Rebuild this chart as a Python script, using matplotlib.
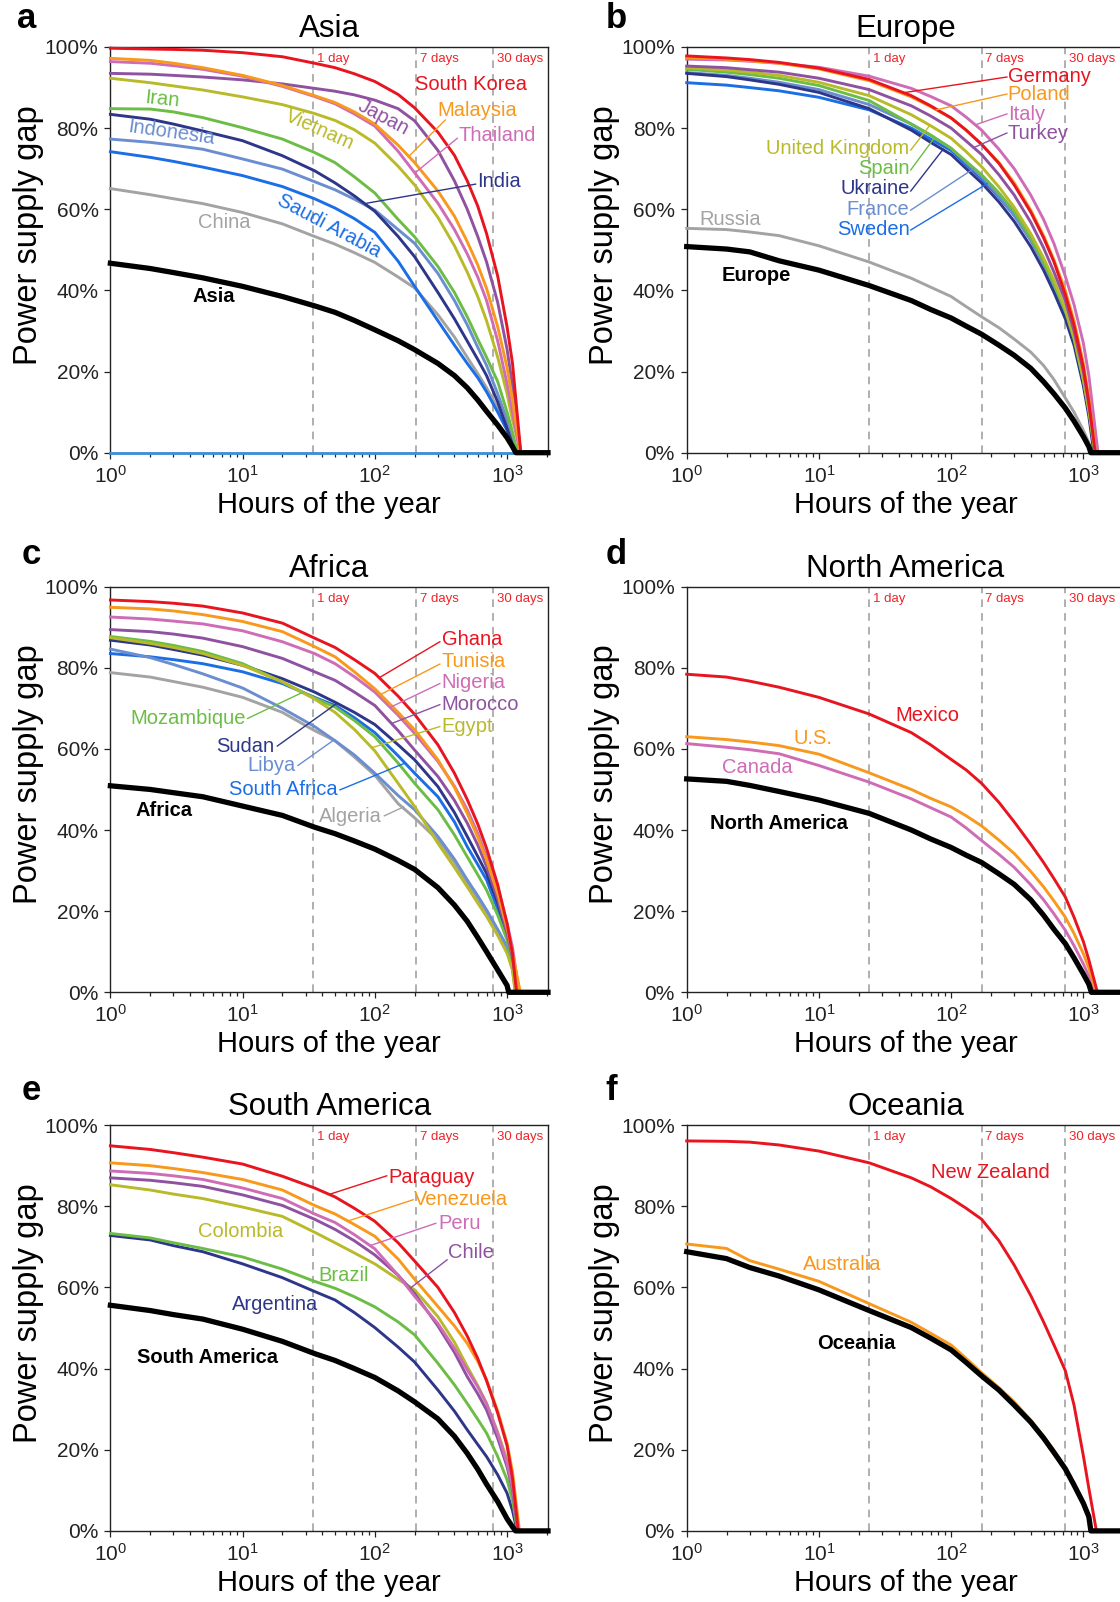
import matplotlib
matplotlib.use('Agg')
import matplotlib.pyplot as plt

plt.rcParams['font.family'] = ['Liberation Sans', 'DejaVu Sans']
plt.rcParams['mathtext.fontset'] = 'custom'
plt.rcParams['mathtext.rm'] = 'Liberation Sans'
plt.rcParams['mathtext.it'] = 'Liberation Sans:italic'
plt.rcParams['mathtext.bf'] = 'Liberation Sans:bold'

# ---------------- data (hours of the year vs power supply gap, %) ----------------
LEFT_HOURS = [1, 2, 3, 5, 10, 20, 35, 50, 70, 100, 150, 200, 300, 400, 500, 600, 700, 850, 1000, 1100]
RIGHT_HOURS = [1, 2, 3, 5, 10, 24, 50, 70, 100, 130, 170, 230, 300, 400, 500, 600, 730, 850, 1000, 1100]
LEFT_DAY_MARKS = [34.3, 205, 783]
RIGHT_DAY_MARKS = [24, 170, 730]
DAY_LABELS = ['1 day', '7 days', '30 days']
X_MAX = 2040
Y_TICKS = [0, 20, 40, 60, 80, 100]
Y_TICK_LABELS = ['0%', '20%', '40%', '60%', '80%', '100%']

# Asia (LEFT_HOURS)
asia_names = ['South Korea', 'Malaysia', 'Thailand', 'Japan', 'Vietnam', 'Iran',
              'India', 'Indonesia', 'Saudi Arabia', 'China', 'Asia']
asia_south_korea = [99.7, 99.5, 99.4, 99.2, 98.6, 97.6, 96.0, 94.9, 93.4, 91.5, 88.3, 85.0, 79.0, 73.3, 67.0, 60.8, 54.0, 43.5, 31.0, 22.0]
asia_malaysia = [97.2, 96.7, 96.0, 94.9, 93.0, 90.5, 88.0, 86.3, 84.0, 81.0, 75.8, 71.5, 64.5, 58.3, 52.0, 46.3, 40.5, 31.0, 21.0, 13.0]
asia_thailand = [96.4, 96.0, 95.4, 94.5, 92.8, 90.3, 87.8, 86.0, 83.5, 80.5, 74.3, 69.0, 61.5, 55.0, 49.0, 43.3, 37.5, 27.5, 17.0, 10.0]
asia_japan = [93.5, 93.3, 93.0, 92.6, 91.9, 90.9, 89.8, 89.1, 88.2, 86.9, 84.8, 81.8, 74.5, 67.0, 60.0, 53.3, 47.0, 37.0, 25.5, 16.5]
asia_vietnam = [92.3, 91.2, 90.4, 89.4, 87.7, 85.8, 83.6, 81.9, 79.6, 76.3, 70.6, 66.0, 58.0, 51.0, 44.5, 38.5, 32.5, 23.5, 14.5, 8.0]
asia_iran = [84.8, 84.7, 84.0, 82.6, 80.1, 77.3, 74.0, 71.5, 68.0, 64.0, 57.5, 53.2, 45.9, 39.5, 33.5, 28.0, 23.5, 17.5, 10.0, 5.0]
asia_india = [83.4, 82.2, 81.0, 79.3, 76.9, 73.2, 69.5, 66.5, 63.3, 59.5, 53.3, 48.3, 39.5, 33.0, 27.5, 23.0, 19.0, 12.5, 6.0, 2.0]
asia_indonesia = [77.3, 76.5, 75.8, 74.8, 72.4, 69.9, 66.8, 64.8, 62.5, 59.8, 55.0, 51.6, 44.2, 37.5, 31.5, 26.0, 21.5, 14.5, 8.0, 3.5]
asia_saudi_arabia = [74.2, 72.8, 71.8, 70.4, 68.3, 65.6, 62.6, 60.3, 57.7, 54.3, 47.2, 41.0, 32.5, 26.5, 22.0, 18.5, 15.0, 10.0, 5.5, 2.5]
asia_china = [65.1, 63.6, 62.6, 61.4, 59.2, 56.4, 53.3, 51.4, 49.3, 46.9, 43.3, 40.6, 34.0, 28.5, 23.5, 19.5, 16.0, 11.0, 6.5, 3.0]
asia_region = [46.7, 45.4, 44.4, 43.1, 41.0, 38.5, 36.2, 34.6, 32.6, 30.3, 27.6, 25.4, 22.0, 19.0, 16.0, 13.0, 10.2, 6.8, 3.7, 1.5]
asia_zero_hours = [1270, 1260, 1250, 1270, 1280, 1200, 1160, 1200, 1150, 1170, 1165]

# Europe (RIGHT_HOURS)
europe_names = ['Germany', 'Poland', 'Italy', 'Turkey', 'United Kingdom', 'Spain',
                'Ukraine', 'France', 'Sweden', 'Russia', 'Europe']
europe_germany = [97.8, 97.3, 96.9, 96.2, 94.8, 92.0, 88.0, 85.5, 82.5, 79.5, 76.0, 71.3, 66.0, 59.3, 53.0, 47.0, 39.0, 31.5, 21.0, 12.5]
europe_poland = [97.4, 97.0, 96.6, 96.0, 94.6, 91.7, 87.7, 85.3, 82.5, 79.5, 76.0, 71.5, 66.5, 59.8, 53.5, 47.5, 40.0, 32.5, 22.0, 13.5]
europe_italy = [97.0, 96.8, 96.5, 96.0, 95.0, 92.8, 89.8, 87.8, 85.5, 82.7, 79.5, 74.8, 70.0, 63.5, 57.5, 51.5, 43.5, 36.5, 27.0, 19.0]
europe_turkey = [95.3, 94.9, 94.4, 93.8, 92.3, 89.5, 85.5, 83.0, 80.0, 76.8, 73.5, 68.5, 63.5, 56.8, 50.5, 44.5, 37.5, 30.0, 20.0, 12.0]
europe_uk = [94.9, 94.3, 93.8, 93.0, 91.3, 88.0, 83.3, 80.6, 77.5, 74.2, 70.5, 65.5, 60.5, 54.0, 48.0, 42.5, 35.5, 28.5, 18.0, 10.5]
europe_spain = [94.5, 93.8, 93.2, 92.3, 90.5, 86.8, 81.0, 78.3, 75.0, 71.8, 68.5, 64.0, 59.5, 53.0, 47.0, 41.5, 35.0, 28.0, 18.0, 10.5]
europe_ukraine = [93.5, 92.7, 91.9, 90.8, 88.8, 84.8, 79.5, 76.5, 73.5, 70.0, 66.5, 61.8, 57.0, 50.8, 45.0, 39.5, 33.0, 26.5, 16.5, 9.0]
europe_france = [93.7, 93.0, 92.3, 91.3, 89.5, 85.8, 81.0, 78.2, 75.0, 71.5, 68.0, 63.3, 58.5, 52.3, 46.5, 41.0, 34.5, 27.5, 17.5, 10.0]
europe_sweden = [91.2, 90.6, 90.0, 89.2, 87.6, 84.5, 80.0, 77.3, 74.5, 71.0, 67.5, 63.0, 58.5, 52.5, 47.0, 41.5, 35.0, 28.0, 18.5, 11.0]
europe_russia = [55.3, 55.0, 54.4, 53.5, 51.0, 47.0, 43.0, 40.8, 38.5, 36.0, 33.5, 30.8, 28.0, 24.8, 21.5, 18.0, 13.5, 10.0, 5.5, 2.5]
europe_region = [50.8, 50.2, 49.5, 47.3, 45.0, 41.2, 37.5, 35.3, 33.2, 31.2, 29.2, 26.5, 24.0, 20.8, 17.5, 14.5, 11.0, 7.8, 4.0, 1.5]
europe_zero_hours = [1230, 1240, 1290, 1250, 1230, 1220, 1200, 1220, 1230, 1160, 1140]

# Africa (LEFT_HOURS)
africa_names = ['Ghana', 'Tunisia', 'Nigeria', 'Morocco', 'Egypt', 'Mozambique',
                'Sudan', 'Libya', 'South Africa', 'Algeria', 'Africa']
africa_ghana = [96.7, 96.3, 95.9, 95.2, 93.5, 91.0, 87.3, 85.0, 82.0, 78.6, 73.0, 68.5, 61.0, 54.0, 47.5, 41.5, 35.5, 26.5, 17.0, 9.5]
africa_tunisia = [94.9, 94.5, 94.0, 93.1, 91.4, 88.9, 85.2, 82.7, 79.0, 74.8, 69.0, 64.7, 57.3, 50.5, 44.1, 38.3, 32.6, 24.3, 15.8, 9.5]
africa_nigeria = [92.5, 92.0, 91.5, 90.8, 89.1, 86.4, 83.5, 81.0, 77.8, 74.0, 68.3, 63.8, 56.9, 50.8, 45.0, 39.2, 33.4, 25.0, 17.0, 11.0]
africa_morocco = [89.4, 88.9, 88.3, 87.3, 85.2, 82.3, 79.0, 76.9, 74.0, 70.7, 64.5, 59.7, 53.2, 47.3, 41.7, 36.3, 31.0, 23.0, 14.5, 8.5]
africa_egypt = [87.4, 86.0, 85.0, 83.5, 80.6, 76.5, 72.3, 69.0, 64.8, 59.5, 51.5, 45.8, 36.7, 30.8, 26.0, 22.0, 18.7, 14.0, 9.6, 5.5]
africa_mozambique = [87.7, 86.5, 85.5, 84.0, 81.0, 76.5, 72.5, 70.3, 67.0, 63.0, 56.5, 51.5, 45.0, 38.8, 33.4, 29.0, 25.2, 19.0, 12.9, 7.5]
africa_sudan = [86.8, 85.6, 84.5, 83.1, 80.6, 77.3, 74.0, 71.5, 69.0, 66.0, 61.0, 57.3, 50.7, 44.3, 38.4, 33.5, 29.3, 22.0, 14.5, 8.5]
africa_libya = [84.6, 82.5, 80.8, 78.5, 75.0, 70.0, 65.5, 62.0, 58.5, 54.0, 48.5, 45.0, 38.4, 32.8, 27.7, 23.8, 20.3, 15.5, 11.3, 6.0]
africa_south_africa = [83.5, 82.7, 82.0, 81.0, 79.0, 76.1, 72.7, 70.7, 67.7, 64.0, 58.3, 54.0, 48.2, 42.0, 35.9, 31.5, 27.7, 20.5, 13.7, 8.0]
africa_algeria = [78.8, 77.7, 76.6, 75.2, 72.7, 69.0, 64.5, 62.0, 58.0, 53.5, 46.5, 43.0, 37.5, 32.0, 26.9, 23.0, 19.5, 15.0, 10.4, 5.5]
africa_region = [50.9, 50.0, 49.2, 48.2, 45.9, 43.6, 40.7, 39.1, 37.3, 35.3, 32.5, 30.3, 25.8, 21.5, 17.5, 13.5, 10.0, 5.5, 1.7]
africa_zero_hours = [1180, 1260, 1230, 1200, 1150, 1170, 1200, 1170, 1180, 1160, 1030]

# North America (RIGHT_HOURS)
namerica_names = ['Mexico', 'U.S.', 'Canada', 'North America']
namerica_mexico = [78.4, 77.7, 76.7, 75.2, 72.7, 68.6, 64.0, 61.0, 57.4, 54.8, 51.5, 46.8, 42.0, 36.5, 32.0, 28.0, 23.5, 18.5, 12.5, 8.0]
namerica_us = [63.0, 62.3, 61.7, 60.8, 58.7, 54.1, 50.0, 47.8, 45.7, 43.5, 41.0, 37.5, 34.2, 29.8, 26.0, 22.5, 18.5, 14.5, 9.5, 6.0]
namerica_canada = [61.3, 60.4, 59.8, 58.8, 55.9, 51.8, 47.7, 45.5, 43.2, 40.5, 37.4, 34.0, 30.8, 26.5, 22.8, 19.3, 15.3, 11.5, 7.0, 4.0]
namerica_region = [52.6, 52.0, 51.0, 49.5, 47.4, 44.1, 40.0, 37.8, 35.7, 33.8, 32.0, 29.2, 26.6, 22.8, 19.0, 15.5, 12.0, 8.5, 4.5, 2.0]
namerica_zero_hours = [1277, 1250, 1220, 1150]

# South America (LEFT_HOURS)
samerica_names = ['Paraguay', 'Venezuela', 'Peru', 'Chile', 'Colombia', 'Brazil',
                  'Argentina', 'South America']
samerica_paraguay = [94.9, 94.0, 93.2, 92.1, 90.4, 87.4, 84.5, 82.3, 79.5, 76.3, 71.0, 66.5, 60.0, 53.8, 48.0, 42.5, 37.0, 29.0, 21.0, 13.0]
samerica_venezuela = [90.7, 90.0, 89.3, 88.3, 86.6, 84.0, 80.2, 78.1, 75.5, 72.6, 67.0, 62.0, 55.3, 50.5, 46.2, 41.8, 37.2, 29.5, 21.6, 14.5]
samerica_peru = [88.7, 88.1, 87.5, 86.6, 84.5, 81.9, 78.1, 76.0, 73.0, 69.5, 63.0, 57.8, 51.1, 45.0, 39.7, 35.5, 31.4, 24.0, 16.7, 11.0]
samerica_chile = [87.0, 86.4, 85.8, 84.9, 82.8, 80.2, 76.8, 74.3, 71.5, 68.0, 63.0, 58.5, 50.5, 44.0, 38.0, 33.8, 29.8, 22.8, 15.8, 10.0]
samerica_colombia = [85.3, 84.0, 83.0, 81.9, 79.8, 77.5, 73.6, 71.0, 68.5, 65.8, 62.0, 59.4, 52.8, 46.5, 40.5, 35.8, 31.4, 24.3, 17.5, 11.5]
samerica_brazil = [73.3, 72.2, 71.0, 69.6, 67.5, 64.5, 61.5, 59.8, 57.7, 55.2, 51.5, 48.3, 41.3, 36.0, 31.4, 27.5, 24.1, 18.3, 12.6, 7.5]
samerica_argentina = [72.8, 71.7, 70.3, 68.8, 65.8, 62.4, 59.0, 56.9, 53.8, 50.1, 45.3, 41.6, 34.7, 29.5, 24.9, 21.3, 18.3, 13.8, 9.3, 5.0]
samerica_region = [55.6, 54.3, 53.3, 52.2, 49.7, 46.7, 43.7, 42.0, 40.0, 37.8, 34.5, 31.8, 27.6, 23.3, 19.1, 15.2, 11.5, 7.2, 3.0, 1.0]
samerica_zero_hours = [1215, 1240, 1220, 1210, 1230, 1200, 1190, 1160]

# Oceania (RIGHT_HOURS)
oceania_names = ['New Zealand', 'Australia', 'Oceania']
oceania_new_zealand = [96.1, 96.0, 95.8, 95.1, 93.6, 90.7, 87.0, 84.8, 81.9, 79.5, 76.8, 71.5, 65.5, 58.0, 51.5, 45.8, 39.5, 31.0, 18.5, 10.5]
oceania_australia = [70.7, 69.6, 66.6, 64.5, 61.5, 56.0, 51.4, 48.7, 45.8, 42.5, 39.0, 35.3, 31.8, 27.3, 23.3, 19.8, 15.7, 11.8, 7.2, 4.0]
oceania_region = [68.8, 67.1, 64.9, 62.8, 59.4, 54.3, 50.1, 47.5, 44.6, 41.5, 38.2, 34.7, 31.0, 26.8, 22.9, 19.3, 15.3, 11.3, 6.8, 3.5]
oceania_zero_hours = [1255, 1150, 1140]

# ---------------- styling ----------------
RED = '#e8141f'
ORANGE = '#f8981d'
PINK = '#cf6cb6'
PURPLE = '#8f52a1'
OLIVE = '#b9ba2a'
GREEN = '#6cbd45'
NAVY = '#2e3689'
STEEL = '#6b8ed0'
BLUE = '#1b6ee6'
GRAY = '#a3a3a3'
BLACK = '#000000'

TEN = [RED, ORANGE, PINK, PURPLE, OLIVE, GREEN, NAVY, STEEL, BLUE, GRAY, BLACK]

panels = [
    dict(title='Asia', letter='a', hours=LEFT_HOURS, days=LEFT_DAY_MARKS,
         series=[asia_south_korea, asia_malaysia, asia_thailand, asia_japan, asia_vietnam,
                 asia_iran, asia_india, asia_indonesia, asia_saudi_arabia, asia_china, asia_region],
         zeros=asia_zero_hours, colors=TEN, rect=(110.4, 47, 548, 452.7), letter_xy=(27, 18)),
    dict(title='Europe', letter='b', hours=RIGHT_HOURS, days=RIGHT_DAY_MARKS,
         series=[europe_germany, europe_poland, europe_italy, europe_turkey, europe_uk,
                 europe_spain, europe_ukraine, europe_france, europe_sweden, europe_russia,
                 europe_region],
         zeros=europe_zero_hours, colors=TEN, rect=(686.7, 47, 1124.3, 452.7), letter_xy=(616, 18)),
    dict(title='Africa', letter='c', hours=LEFT_HOURS, days=LEFT_DAY_MARKS,
         series=[africa_ghana, africa_tunisia, africa_nigeria, africa_morocco, africa_egypt,
                 africa_mozambique, africa_sudan, africa_libya, africa_south_africa,
                 africa_algeria, africa_region],
         zeros=africa_zero_hours, colors=TEN, rect=(110.4, 586.6, 548, 992.3), letter_xy=(31, 554)),
    dict(title='North America', letter='d', hours=RIGHT_HOURS, days=RIGHT_DAY_MARKS,
         series=[namerica_mexico, namerica_us, namerica_canada, namerica_region],
         zeros=namerica_zero_hours, colors=[RED, ORANGE, PINK, BLACK],
         rect=(686.7, 586.6, 1124.3, 992.3), letter_xy=(616, 554)),
    dict(title='South America', letter='e', hours=LEFT_HOURS, days=LEFT_DAY_MARKS,
         series=[samerica_paraguay, samerica_venezuela, samerica_peru, samerica_chile,
                 samerica_colombia, samerica_brazil, samerica_argentina, samerica_region],
         zeros=samerica_zero_hours, colors=[RED, ORANGE, PINK, PURPLE, OLIVE, GREEN, NAVY, BLACK],
         rect=(110.4, 1125.1, 548, 1530.9), letter_xy=(31, 1091)),
    dict(title='Oceania', letter='f', hours=RIGHT_HOURS, days=RIGHT_DAY_MARKS,
         series=[oceania_new_zealand, oceania_australia, oceania_region],
         zeros=oceania_zero_hours, colors=[RED, ORANGE, BLACK],
         rect=(686.7, 1125.1, 1124.3, 1530.9), letter_xy=(611, 1091)),
]

# label annotations: (text, x, y, color, ha, rotation, bold, leader)
labels = {
    'Asia': [
        ('South Korea', 535, 90.7, RED, 'center', 0, False, None),
        ('Malaysia', 595, 84.4, ORANGE, 'center', 0, False, ((341, 82.0), (180, 73.0))),
        ('Thailand', 845, 78.1, PINK, 'center', 0, False, ((420, 77.5), (202, 69.0))),
        ('Japan', 116, 82.6, PURPLE, 'center', -28, False, None),
        ('Vietnam', 38, 79.6, OLIVE, 'center', -24, False, None),
        ('Iran', 2.45, 87.0, GREEN, 'center', -6, False, None),
        ('Indonesia', 2.9, 79.0, STEEL, 'center', -8, False, None),
        ('India', 867, 66.8, NAVY, 'center', 0, False, ((578, 66.2), (87, 61.5))),
        ('Saudi Arabia', 45, 56.0, BLUE, 'center', -28, False, None),
        ('China', 7.2, 56.7, GRAY, 'center', 0, False, None),
        ('Asia', 6.1, 38.5, BLACK, 'center', 0, True, None),
    ],
    'Europe': [
        ('Germany', 268, 92.7, RED, 'left', 0, False, ((264, 92.6), (43, 88.7))),
        ('Poland', 268, 88.4, ORANGE, 'left', 0, False, ((264, 88.4), (77, 84.5))),
        ('Italy', 268, 83.4, PINK, 'left', 0, False, ((264, 83.5), (152, 80.8))),
        ('Turkey', 268, 78.8, PURPLE, 'left', 0, False, ((264, 78.8), (148, 75.2))),
        ('United Kingdom', 48.5, 75.0, OLIVE, 'right', 0, False, ((49.5, 74.6), (69, 80.7))),
        ('Spain', 48.5, 70.0, GREEN, 'right', 0, False, ((49.5, 69.7), (75, 77.7))),
        ('Ukraine', 48.5, 65.0, NAVY, 'right', 0, False, ((49.5, 64.5), (87, 74.8))),
        ('France', 48.5, 60.0, STEEL, 'right', 0, False, ((49.5, 59.8), (148, 70.0))),
        ('Sweden', 48.5, 54.9, BLUE, 'right', 0, False, ((49.5, 54.9), (187, 66.3))),
        ('Russia', 2.14, 57.4, GRAY, 'center', 0, False, None),
        ('Europe', 3.38, 43.8, BLACK, 'center', 0, True, None),
    ],
    'Africa': [
        ('Ghana', 320, 86.9, RED, 'left', 0, False, ((310, 86.4), (110, 77.7))),
        ('Tunisia', 320, 81.6, ORANGE, 'left', 0, False, ((310, 80.9), (112, 73.5))),
        ('Nigeria', 320, 76.3, PINK, 'left', 0, False, ((310, 76.1), (132, 70.3))),
        ('Morocco', 320, 71.0, PURPLE, 'left', 0, False, ((310, 70.9), (135, 66.3))),
        ('Egypt', 320, 65.5, OLIVE, 'left', 0, False, ((310, 65.5), (95, 60.3))),
        ('Mozambique', 10.5, 67.5, GREEN, 'right', 0, False, ((10.9, 67.5), (28.7, 74.0))),
        ('Sudan', 17.5, 60.7, NAVY, 'right', 0, False, ((18.3, 60.7), (52, 71.3))),
        ('Libya', 25.0, 55.9, STEEL, 'right', 0, False, ((26.2, 55.9), (49, 62.2))),
        ('South Africa', 52.5, 49.9, BLUE, 'right', 0, False, ((54.5, 49.9), (169, 56.5))),
        ('Algeria', 113, 43.3, GRAY, 'right', 0, False, ((118, 43.5), (165, 45.7))),
        ('Africa', 2.54, 44.8, BLACK, 'center', 0, True, None),
    ],
    'North America': [
        ('Mexico', 65.8, 68.3, RED, 'center', 0, False, None),
        ('U.S.', 9.0, 62.5, ORANGE, 'center', 0, False, None),
        ('Canada', 3.4, 55.4, PINK, 'center', 0, False, None),
        ('North America', 4.96, 41.6, BLACK, 'center', 0, True, None),
    ],
    'South America': [
        ('Paraguay', 127, 87.2, RED, 'left', 0, False, ((123, 87.5), (46, 83.0))),
        ('Venezuela', 199, 81.6, ORANGE, 'left', 0, False, ((195, 81.6), (63, 76.4))),
        ('Peru', 300, 75.8, PINK, 'left', 0, False, ((289, 75.8), (92, 70.3))),
        ('Chile', 358, 68.5, PURPLE, 'left', 0, False, ((352, 66.8), (185, 59.8))),
        ('Colombia', 9.6, 73.8, OLIVE, 'center', 0, False, None),
        ('Brazil', 57.8, 63.0, GREEN, 'center', 0, False, None),
        ('Argentina', 17.7, 55.9, NAVY, 'center', 0, False, None),
        ('South America', 5.4, 42.8, BLACK, 'center', 0, True, None),
    ],
    'Oceania': [
        ('New Zealand', 199, 88.4, RED, 'center', 0, False, None),
        ('Australia', 15.0, 65.7, ORANGE, 'center', 0, False, None),
        ('Oceania', 19.1, 46.3, BLACK, 'center', 0, True, None),
    ],
}

W, H = 1120, 1602
fig = plt.figure(figsize=(W / 100, H / 100), dpi=100)


def frac_rect(l, t, r, b):
    return [l / W, 1 - b / H, (r - l) / W, (b - t) / H]


for p in panels:
    ax = fig.add_axes(frac_rect(*p['rect']))
    ax.set_xscale('log')
    ax.set_xlim(1, X_MAX)
    ax.set_ylim(0, 100)
    ax.set_yticks(Y_TICKS)
    ax.set_yticklabels(Y_TICK_LABELS)
    ax.tick_params(which='major', labelsize=15, length=4.5, width=0.9, pad=4, colors='#222222')
    ax.tick_params(which='minor', length=3, width=0.9, colors='#222222')
    for s in ax.spines.values():
        s.set_linewidth(1.0)
        s.set_color('#222222')
    ax.set_title(p['title'], fontsize=22.5, pad=7)
    ax.set_ylabel('Power supply gap', fontsize=23.5)
    ax.yaxis.set_label_coords(-0.152, 0.537)
    ax.set_xlabel('Hours of the year', fontsize=21, labelpad=3)

    for d, lab in zip(p['days'], DAY_LABELS):
        ax.axvline(d, color='#9a9a9a', ls=(0, (5, 4)), lw=1.1, zorder=1)
        ax.text(d * 1.065, 97, lab, color='#f0242a', fontsize=9.5, ha='left', va='center')

    if p['title'] == 'Asia':
        ax.axhline(0, color='#3d8fd6', lw=2.0, zorder=3, clip_on=False)

    hrs = p['hours']
    n = len(p['series'])
    order = list(range(n - 1))[::-1] + [n - 1]
    for i in order:
        vals = p['series'][i]
        xs = list(hrs[:len(vals)]) + [p['zeros'][i], X_MAX]
        ys = list(vals) + [0, 0]
        is_region = (i == n - 1)
        ax.plot(xs, ys, color=p['colors'][i], lw=3.8 if is_region else 2.1,
                solid_joinstyle='round', zorder=5 if is_region else 4, clip_on=False)

    for (txt, x, y, col, ha, rot, bold, leader) in labels[p['title']]:
        ax.text(x, y, txt, color=col, fontsize=14.5, ha=ha, va='center', rotation=rot,
                rotation_mode='anchor', fontweight='bold' if bold else 'normal', zorder=6)
        if leader is not None:
            (x1, y1), (x2, y2) = leader
            ax.plot([x1, x2], [y1, y2], color=col, lw=1.0, zorder=6)

    lx, ly = p['letter_xy']
    fig.text(lx / W, 1 - ly / H, p['letter'], fontsize=25, fontweight='bold', ha='center', va='center')

fig.savefig('out.png', dpi=100)
